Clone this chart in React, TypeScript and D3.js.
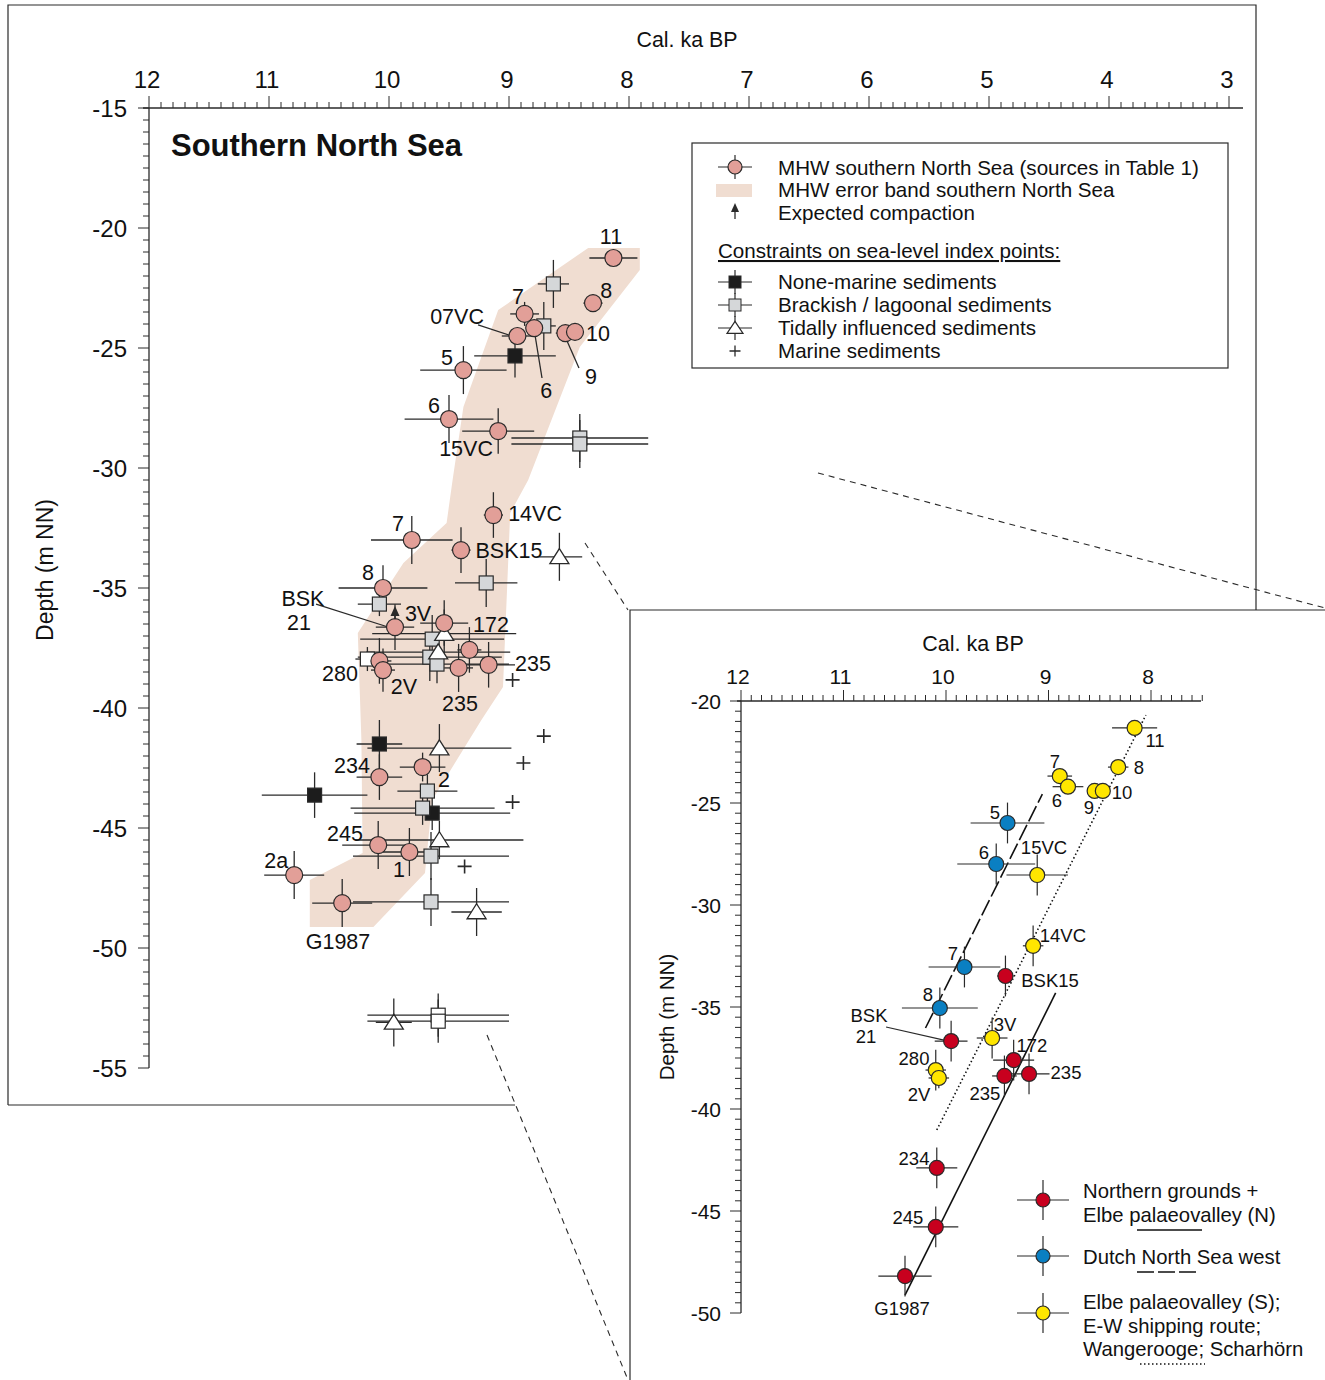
import React from 'react';
import * as d3 from 'd3';

type P = { ka: number; d: number; ex: number; ey: number };
type L = { t: string; ka: number; d: number };

// ---------- MAIN PANEL DATA ----------
const MAIN_KA_TICKS = [12, 11, 10, 9, 8, 7, 6, 5, 4, 3];
const MAIN_DEPTH_TICKS = [-15, -20, -25, -30, -35, -40, -45, -50, -55];

const BAND: [number, number][] = [
  [8.34, -20.83], [7.91, -20.83], [7.91, -21.75], [8.41, -24.96], [8.84, -30.5], [8.99, -31.88],
  [9.05, -39.13], [9.23, -40.5], [9.64, -43.83], [9.70, -46.88], [10.13, -49.13], [10.66, -49.13],
  [10.66, -47.17], [10.22, -46.04], [10.23, -41.33], [10.26, -36.88], [9.88, -33.96], [9.52, -32.29],
  [9.47, -30.5], [9.38, -27.46], [9.09, -23.42],
];

const MHW: P[] = [
  { ka: 8.13, d: -21.25, ex: 0.2, ey: 0 },
  { ka: 8.30, d: -23.13, ex: 0.08, ey: 0 },
  { ka: 8.87, d: -23.58, ex: 0.12, ey: 0.5 },
  { ka: 8.93, d: -24.5, ex: 0.13, ey: 0 },
  { ka: 8.79, d: -24.17, ex: 0, ey: 0 },
  { ka: 8.53, d: -24.38, ex: 0.08, ey: 0 },
  { ka: 8.45, d: -24.33, ex: 0, ey: 0 },
  { ka: 9.38, d: -25.92, ex: 0.36, ey: 1.0 },
  { ka: 9.50, d: -27.96, ex: 0.37, ey: 1.0 },
  { ka: 9.09, d: -28.46, ex: 0.3, ey: 0.95 },
  { ka: 9.13, d: -31.96, ex: 0.08, ey: 0.95 },
  { ka: 9.81, d: -33.0, ex: 0.34, ey: 1.0 },
  { ka: 9.40, d: -33.42, ex: 0.08, ey: 0.95 },
  { ka: 10.05, d: -35.0, ex: 0.37, ey: 0.95 },
  { ka: 9.95, d: -36.63, ex: 0.16, ey: 0.95 },
  { ka: 9.54, d: -36.46, ex: 0.2, ey: 0.95 },
  { ka: 9.33, d: -37.58, ex: 0.1, ey: 0.95 },
  { ka: 9.42, d: -38.33, ex: 0.12, ey: 1.0 },
  { ka: 9.17, d: -38.2, ex: 0.22, ey: 0.95 },
  { ka: 10.08, d: -38.04, ex: 0.1, ey: 0.95 },
  { ka: 10.05, d: -38.42, ex: 0.1, ey: 0.9 },
  { ka: 10.08, d: -42.88, ex: 0.19, ey: 0.95 },
  { ka: 9.72, d: -42.46, ex: 0.19, ey: 0.6 },
  { ka: 10.09, d: -45.71, ex: 0.3, ey: 1.0 },
  { ka: 9.83, d: -46.0, ex: 0.22, ey: 1.0 },
  { ka: 10.79, d: -46.96, ex: 0.25, ey: 1.0 },
  { ka: 10.39, d: -48.13, ex: 0.25, ey: 1.0 },
];

const NON_MARINE: P[] = [
  { ka: 8.95, d: -25.33, ex: 0.34, ey: 0.9 },
  { ka: 10.08, d: -41.5, ex: 0.19, ey: 1.0 },
  { ka: 10.62, d: -43.63, ex: 0.44, ey: 0.95 },
  { ka: 9.64, d: -44.38, ex: 0.65, ey: 0.7 },
];

const BRACKISH: P[] = [
  { ka: 8.63, d: -22.33, ex: 0.13, ey: 1.0 },
  { ka: 8.71, d: -24.08, ex: 0.1, ey: 1.0 },
  { ka: 8.41, d: -28.75, ex: 0.57, ey: 1.0 },
  { ka: 8.41, d: -29.0, ex: 0.57, ey: 1.0 },
  { ka: 9.19, d: -34.79, ex: 0.26, ey: 1.0 },
  { ka: 10.08, d: -35.67, ex: 0.18, ey: 0.5 },
  { ka: 9.64, d: -37.13, ex: 0.6, ey: 1.0 },
  { ka: 9.66, d: -37.88, ex: 0.6, ey: 1.0 },
  { ka: 9.60, d: -38.17, ex: 0.6, ey: 0.8 },
  { ka: 9.68, d: -43.46, ex: 0.25, ey: 0.7 },
  { ka: 9.72, d: -44.17, ex: 0.6, ey: 0.7 },
  { ka: 9.65, d: -46.17, ex: 0.65, ey: 1.0 },
  { ka: 9.65, d: -48.08, ex: 0.65, ey: 1.0 },
];

const OPEN_SQUARES: P[] = [
  { ka: 10.18, d: -37.96, ex: 0.1, ey: 0.5 },
  { ka: 9.59, d: -52.8, ex: 0.59, ey: 0.9 },
  { ka: 9.59, d: -53.05, ex: 0.59, ey: 0.9 },
];

const TIDAL: P[] = [
  { ka: 8.58, d: -33.7, ex: 0.19, ey: 1.0 },
  { ka: 9.54, d: -36.9, ex: 0.6, ey: 1.0 },
  { ka: 9.59, d: -37.67, ex: 0.6, ey: 0.5 },
  { ka: 9.58, d: -41.67, ex: 0.6, ey: 1.0 },
  { ka: 9.58, d: -45.5, ex: 0.7, ey: 0.8 },
  { ka: 9.27, d: -48.5, ex: 0.21, ey: 1.0 },
  { ka: 9.96, d: -53.1, ex: 0.15, ey: 1.0 },
];

const MARINE: P[] = [
  { ka: 8.97, d: -38.83, ex: 0, ey: 0 },
  { ka: 8.71, d: -41.17, ex: 0, ey: 0 },
  { ka: 8.88, d: -42.29, ex: 0, ey: 0 },
  { ka: 8.97, d: -43.92, ex: 0, ey: 0 },
  { ka: 9.37, d: -46.6, ex: 0, ey: 0 },
];

const MAIN_LABELS: L[] = [
  { t: '11', ka: 8.15, d: -20.33 }, { t: '8', ka: 8.19, d: -22.58 }, { t: '7', ka: 8.925, d: -22.83 },
  { t: '07VC', ka: 9.433, d: -23.67 }, { t: '10', ka: 8.258, d: -24.375 }, { t: '6', ka: 8.69, d: -26.75 },
  { t: '9', ka: 8.317, d: -26.17 }, { t: '5', ka: 9.517, d: -25.375 }, { t: '6', ka: 9.625, d: -27.375 },
  { t: '15VC', ka: 9.358, d: -29.17 }, { t: '14VC', ka: 8.783, d: -31.875 }, { t: '7', ka: 9.925, d: -32.29 },
  { t: 'BSK15', ka: 9.0, d: -33.42 }, { t: '8', ka: 10.175, d: -34.33 }, { t: 'BSK', ka: 10.717, d: -35.42 },
  { t: '21', ka: 10.75, d: -36.42 }, { t: '3V', ka: 9.758, d: -36.04 }, { t: '172', ka: 9.15, d: -36.5 },
  { t: '235', ka: 8.8, d: -38.125 }, { t: '280', ka: 10.408, d: -38.54 }, { t: '2V', ka: 9.875, d: -39.08 },
  { t: '235', ka: 9.408, d: -39.79 }, { t: '234', ka: 10.308, d: -42.375 }, { t: '2', ka: 9.542, d: -42.96 },
  { t: '245', ka: 10.367, d: -45.21 }, { t: '2a', ka: 10.94, d: -46.33 }, { t: '1', ka: 9.917, d: -46.71 },
  { t: 'G1987', ka: 10.425, d: -49.71 },
];

const MAIN_LEADERS: [number, number, number, number][] = [
  [9.258, -24.04, 8.95, -24.54],
  [8.79, -24.25, 8.725, -26.25],
  [8.542, -24.42, 8.417, -25.83],
  [10.608, -35.67, 10.008, -36.625],
];

// ---------- INSET DATA ----------
const INSET_KA_TICKS = [12, 11, 10, 9, 8];
const INSET_DEPTH_TICKS = [-20, -25, -30, -35, -40, -45, -50];

const INSET_YELLOW: P[] = [
  { ka: 8.16, d: -21.32, ex: 0.22, ey: 0 },
  { ka: 8.32, d: -23.24, ex: 0.1, ey: 0 },
  { ka: 8.89, d: -23.68, ex: 0.12, ey: 0 },
  { ka: 8.81, d: -24.2, ex: 0.15, ey: 0 },
  { ka: 8.55, d: -24.41, ex: 0.07, ey: 0 },
  { ka: 8.47, d: -24.41, ex: 0, ey: 0 },
  { ka: 9.11, d: -28.53, ex: 0.3, ey: 1.0 },
  { ka: 9.15, d: -32.0, ex: 0.1, ey: 1.0 },
  { ka: 9.55, d: -36.52, ex: 0.15, ey: 1.0 },
  { ka: 10.1, d: -38.09, ex: 0.1, ey: 1.0 },
  { ka: 10.07, d: -38.48, ex: 0.1, ey: 0.5 },
];
const INSET_BLUE: P[] = [
  { ka: 9.4, d: -25.98, ex: 0.36, ey: 1.0 },
  { ka: 9.51, d: -27.99, ex: 0.38, ey: 1.0 },
  { ka: 9.82, d: -33.04, ex: 0.35, ey: 1.0 },
  { ka: 10.06, d: -35.05, ex: 0.37, ey: 1.0 },
];
const INSET_RED: P[] = [
  { ka: 9.42, d: -33.48, ex: 0.08, ey: 1.0 },
  { ka: 9.95, d: -36.67, ex: 0.16, ey: 1.0 },
  { ka: 9.34, d: -37.6, ex: 0.2, ey: 1.0 },
  { ka: 9.43, d: -38.38, ex: 0.12, ey: 1.0 },
  { ka: 9.19, d: -38.28, ex: 0.2, ey: 1.0 },
  { ka: 10.09, d: -42.89, ex: 0.2, ey: 1.0 },
  { ka: 10.1, d: -45.78, ex: 0.22, ey: 1.0 },
  { ka: 10.4, d: -48.19, ex: 0.26, ey: 1.0 },
];

const INSET_LABELS: L[] = [
  { t: '11', ka: 7.961, d: -21.91 }, { t: '8', ka: 8.117, d: -23.24 }, { t: '7', ka: 8.937, d: -22.94 },
  { t: '6', ka: 8.917, d: -24.85 }, { t: '9', ka: 8.605, d: -25.2 }, { t: '10', ka: 8.283, d: -24.46 },
  { t: '5', ka: 9.522, d: -25.44 }, { t: '6', ka: 9.63, d: -27.4 }, { t: '15VC', ka: 9.044, d: -27.16 },
  { t: '14VC', ka: 8.859, d: -31.47 }, { t: '7', ka: 9.932, d: -32.35 }, { t: 'BSK15', ka: 8.985, d: -33.68 },
  { t: '8', ka: 10.176, d: -34.36 }, { t: 'BSK', ka: 10.751, d: -35.39 }, { t: '21', ka: 10.78, d: -36.42 },
  { t: '3V', ka: 9.424, d: -35.83 }, { t: '172', ka: 9.161, d: -36.86 }, { t: '280', ka: 10.312, d: -37.5 },
  { t: '235', ka: 8.829, d: -38.19 }, { t: '2V', ka: 10.263, d: -39.26 }, { t: '235', ka: 9.62, d: -39.22 },
  { t: '234', ka: 10.312, d: -42.4 }, { t: '245', ka: 10.371, d: -45.29 }, { t: 'G1987', ka: 10.429, d: -49.75 },
];
const INSET_LEADERS: [number, number, number, number][] = [[10.585, -35.98, 10.02, -36.62]];

const TREND_SOLID: [number, number][] = [[10.4, -49.12], [8.93, -34.31]];
const TREND_DASHED: [number, number][] = [[10.2, -36.03], [9.06, -24.56]];
const TREND_DOTTED: [number, number][] = [[10.09, -41.03], [8.05, -20.69]];

const FONT = "'Liberation Sans', Arial, Helvetica, sans-serif";
const INK = '#2a2a2a';
const PINK = '#e29f98';
const BANDC = '#f0ddd1';
const GREY = '#d5d7d9';
const RED = '#c8001e';
const BLUE = '#0a7fc2';
const YELLOW = '#ffe600';

export default function App() {
  const x = d3.scaleLinear().domain([12, 3]).range([149, 1229]);
  const y = d3.scaleLinear().domain([-15, -55]).range([108, 1068]);
  const xi = d3.scaleLinear().domain([12, 8]).range([741, 1151]);
  const yi = d3.scaleLinear().domain([-20, -50]).range([701, 1313]);

  const bars = (pts: P[], sx: any, sy: any, key: string, sw = 1.3) =>
    pts.map((p, i) => (
      <g key={key + i} stroke={INK} strokeWidth={sw}>
        {p.ex > 0 && <line x1={sx(p.ka + p.ex)} x2={sx(p.ka - p.ex)} y1={sy(p.d)} y2={sy(p.d)} />}
        {p.ey > 0 && <line x1={sx(p.ka)} x2={sx(p.ka)} y1={sy(p.d + p.ey)} y2={sy(p.d - p.ey)} />}
      </g>
    ));

  const circles = (pts: P[], sx: any, sy: any, fill: string, r: number, key: string) =>
    pts.map((p, i) => (
      <circle key={key + i} cx={sx(p.ka)} cy={sy(p.d)} r={r} fill={fill} stroke={INK} strokeWidth={1.2} />
    ));

  const squares = (pts: P[], fill: string, key: string, s = 14) =>
    pts.map((p, i) => (
      <rect key={key + i} x={x(p.ka) - s / 2} y={y(p.d) - s / 2} width={s} height={s} fill={fill} stroke={INK} strokeWidth={1.2} />
    ));

  const triPath = (cx: number, cy: number, w = 19, h = 15) =>
    `M${cx},${cy - h * 0.55}L${cx + w / 2},${cy + h * 0.45}L${cx - w / 2},${cy + h * 0.45}Z`;

  const plusPath = (cx: number, cy: number, s = 7) => `M${cx - s},${cy}H${cx + s}M${cx},${cy - s}V${cy + s}`;

  const bandPath = d3.line<[number, number]>().x((d) => x(d[0])).y((d) => y(d[1]))(BAND) + 'Z';
  const lineGen = d3.line<[number, number]>().x((d) => xi(d[0])).y((d) => yi(d[1]));

  const mainMinorX = d3.range(0, 91).map((i) => 12 - i * 0.1);
  const mainMinorY = d3.range(0, 81).map((i) => -15 - i * 0.5);
  const insetMinorX = d3.range(0, 46).map((i) => 12 - i * 0.1);
  const insetMinorY = d3.range(0, 61).map((i) => -20 - i * 0.5);

  const legendItems = [
    { yy: 282, t: 'None-marine sediments' },
    { yy: 305, t: 'Brackish / lagoonal sediments' },
    { yy: 328, t: 'Tidally influenced sediments' },
    { yy: 351, t: 'Marine sediments' },
  ];

  const LF = 20.6;

  return (
    <svg width={1325} height={1380} style={{ position: 'absolute', left: 0, top: 0 }} fontFamily={FONT}>
      <rect x={0} y={0} width={1325} height={1380} fill="#fff" />
      {/* main frame */}
      <path d="M8,1105V5H1256V612M8,1105H515" fill="none" stroke={INK} strokeWidth={1.2} />

      {/* band */}
      <path d={bandPath} fill={BANDC} stroke="none" />

      {/* top axis */}
      <line x1={143} x2={1243} y1={108} y2={108} stroke={INK} strokeWidth={1.3} />
      {mainMinorX.map((k, i) => (
        <line key={'mx' + i} x1={x(k)} x2={x(k)} y1={108} y2={i % 10 === 0 ? 96 : 102} stroke={INK} strokeWidth={1} />
      ))}
      {MAIN_KA_TICKS.map((k) => (
        <text key={'mxl' + k} x={x(k) - 2} y={88} fontSize={24} textAnchor="middle" fill="#111">{k}</text>
      ))}
      <text x={687} y={47} fontSize={21.4} textAnchor="middle" fill="#111">Cal. ka BP</text>

      {/* left axis */}
      <line x1={149} x2={149} y1={108} y2={1068} stroke={INK} strokeWidth={1.3} />
      {mainMinorY.map((d, i) => (
        <line key={'my' + i} x1={149} x2={i % 10 === 0 ? 138 : 143} y1={y(d)} y2={y(d)} stroke={INK} strokeWidth={1} />
      ))}
      {MAIN_DEPTH_TICKS.map((d) => (
        <text key={'myl' + d} x={127} y={y(d)} dy="0.36em" fontSize={24} textAnchor="end" fill="#111">{d}</text>
      ))}
      <text transform="translate(53,570) rotate(-90)" fontSize={23} textAnchor="middle" fill="#111">Depth (m NN)</text>

      <text x={171} y={156} fontSize={31} fontWeight="bold" fill="#111">Southern North Sea</text>

      {/* error bars */}
      {bars(NON_MARINE, x, y, 'bn')}
      {bars(BRACKISH, x, y, 'bb')}
      {bars(OPEN_SQUARES, x, y, 'bo')}
      {bars(TIDAL, x, y, 'bt')}
      {bars(MHW, x, y, 'bm')}

      {/* leaders */}
      {MAIN_LEADERS.map((l, i) => (
        <line key={'ml' + i} x1={x(l[0])} y1={y(l[1])} x2={x(l[2])} y2={y(l[3])} stroke={INK} strokeWidth={1.3} />
      ))}

      {/* markers */}
      {squares(NON_MARINE, '#1c1c1c', 'sn')}
      {squares(BRACKISH, GREY, 'sb')}
      {squares(OPEN_SQUARES, '#fff', 'so')}
      {TIDAL.map((p, i) => (
        <path key={'t' + i} d={triPath(x(p.ka), y(p.d))} fill="#fff" stroke={INK} strokeWidth={1.3} />
      ))}
      {MARINE.map((p, i) => (
        <path key={'pl' + i} d={plusPath(x(p.ka), y(p.d))} stroke={INK} strokeWidth={1.6} />
      ))}
      {circles(MHW, x, y, PINK, 8.5, 'cm')}

      {/* compaction arrow */}
      <line x1={x(9.95)} x2={x(9.95)} y1={y(-36.3)} y2={y(-35.95)} stroke={INK} strokeWidth={1.5} />
      <path d={`M${x(9.95)},${y(-35.75)}l4.5,10h-9z`} fill={INK} />

      {MAIN_LABELS.map((l, i) => (
        <text key={'lb' + i} x={x(l.ka)} y={y(l.d)} dy="0.36em" fontSize={21.5} textAnchor="middle" fill="#111">{l.t}</text>
      ))}

      {/* legend */}
      <rect x={692} y={143} width={536} height={225} fill="#fff" stroke={INK} strokeWidth={1.2} />
      <g stroke={INK} strokeWidth={1.2}>
        <line x1={718} x2={752} y1={167} y2={167} />
        <line x1={735} x2={735} y1={155} y2={179} />
      </g>
      <circle cx={735} cy={167} r={7} fill={PINK} stroke={INK} strokeWidth={1.2} />
      <rect x={716} y={184} width={36} height={13} fill={BANDC} />
      <line x1={735} x2={735} y1={219} y2={210} stroke={INK} strokeWidth={1.3} />
      <path d="M735,203l4,9h-8z" fill={INK} />
      <text x={778} y={175} fontSize={LF} fill="#111">MHW southern North Sea (sources in Table 1)</text>
      <text x={778} y={197} fontSize={LF} fill="#111">MHW error band southern North Sea</text>
      <text x={778} y={220} fontSize={LF} fill="#111">Expected compaction</text>
      <text x={718} y={258} fontSize={LF} fill="#111" textDecoration="underline">Constraints on sea-level index points:</text>
      {legendItems.map((it, i) => (
        <g key={'lg' + i}>
          {i < 3 && (
            <g stroke={INK} strokeWidth={1.2}>
              <line x1={718} x2={752} y1={it.yy} y2={it.yy} />
              <line x1={735} x2={735} y1={it.yy - 12} y2={it.yy + 12} />
            </g>
          )}
          {i === 0 && <rect x={729} y={it.yy - 6} width={12} height={12} fill="#1c1c1c" stroke={INK} />}
          {i === 1 && <rect x={729} y={it.yy - 6} width={12} height={12} fill={GREY} stroke={INK} />}
          {i === 2 && <path d={triPath(735, it.yy, 16, 12)} fill="#fff" stroke={INK} strokeWidth={1.2} />}
          {i === 3 && <path d={plusPath(735, it.yy, 5.5)} stroke={INK} strokeWidth={1.3} />}
          <text x={778} y={it.yy + 7} fontSize={LF} fill="#111">{it.t}</text>
        </g>
      ))}

      {/* zoom connector lines */}
      <g stroke={INK} strokeWidth={1.1} strokeDasharray="6,5" fill="none">
        <line x1={818} y1={473} x2={1325} y2={608} />
        <line x1={585} y1={543} x2={628} y2={610} />
        <line x1={487} y1={1035} x2={628} y2={1380} />
      </g>

      {/* ---------- INSET ---------- */}
      <rect x={630} y={610} width={700} height={775} fill="#fff" />
      <path d="M630,1380V610H1325" fill="none" stroke={INK} strokeWidth={1.2} />

      <line x1={737} x2={1201} y1={701} y2={701} stroke={INK} strokeWidth={1.3} />
      {insetMinorX.map((k, i) => (
        <line key={'ix' + i} x1={xi(k)} x2={xi(k)} y1={701} y2={i % 10 === 0 ? 690 : 695} stroke={INK} strokeWidth={1} />
      ))}
      {INSET_KA_TICKS.map((k) => (
        <text key={'ixl' + k} x={xi(k) - 3} y={684} fontSize={21} textAnchor="middle" fill="#111">{k}</text>
      ))}
      <text x={973} y={651} fontSize={21.5} textAnchor="middle" fill="#111">Cal. ka BP</text>

      <line x1={741} x2={741} y1={701} y2={1313} stroke={INK} strokeWidth={1.3} />
      {insetMinorY.map((d, i) => (
        <line key={'iy' + i} x1={741} x2={i % 10 === 0 ? 730 : 735} y1={yi(d)} y2={yi(d)} stroke={INK} strokeWidth={1} />
      ))}
      {INSET_DEPTH_TICKS.map((d) => (
        <text key={'iyl' + d} x={721} y={yi(d)} dy="0.36em" fontSize={21} textAnchor="end" fill="#111">{d}</text>
      ))}
      <text transform="translate(674,1017) rotate(-90)" fontSize={20.5} textAnchor="middle" fill="#111">Depth (m NN)</text>

      {/* trend lines */}
      <path d={lineGen(TREND_SOLID) || ''} stroke="#111" strokeWidth={1.6} fill="none" />
      <path d={lineGen(TREND_DASHED) || ''} stroke="#111" strokeWidth={1.6} fill="none" strokeDasharray="17,4" />
      <path d={lineGen(TREND_DOTTED) || ''} stroke="#111" strokeWidth={1.6} fill="none" strokeDasharray="1.5,2.5" />

      {bars(INSET_YELLOW, xi, yi, 'iyb', 1.2)}
      {bars(INSET_BLUE, xi, yi, 'ibb', 1.2)}
      {bars(INSET_RED, xi, yi, 'irb', 1.2)}
      {INSET_LEADERS.map((l, i) => (
        <line key={'il' + i} x1={xi(l[0])} y1={yi(l[1])} x2={xi(l[2])} y2={yi(l[3])} stroke={INK} strokeWidth={1.2} />
      ))}
      {circles(INSET_YELLOW, xi, yi, YELLOW, 7.5, 'icy')}
      {circles(INSET_BLUE, xi, yi, BLUE, 7.5, 'icb')}
      {circles(INSET_RED, xi, yi, RED, 7.5, 'icr')}
      {INSET_LABELS.map((l, i) => (
        <text key={'ilb' + i} x={xi(l.ka)} y={yi(l.d)} dy="0.36em" fontSize={18.5} textAnchor="middle" fill="#111">{l.t}</text>
      ))}

      {/* inset legend */}
      {[{ yy: 1200, c: RED }, { yy: 1256, c: BLUE }, { yy: 1313, c: YELLOW }].map((it, i) => (
        <g key={'ilg' + i}>
          <line x1={1017} x2={1069} y1={it.yy} y2={it.yy} stroke={INK} strokeWidth={1.2} />
          <line x1={1043} x2={1043} y1={it.yy - 20} y2={it.yy + 20} stroke={INK} strokeWidth={1.2} />
          <circle cx={1043} cy={it.yy} r={7} fill={it.c} stroke={INK} strokeWidth={1.2} />
        </g>
      ))}
      <g fontSize={20.3} fill="#111">
        <text x={1083} y={1198}>Northern grounds +</text>
        <text x={1083} y={1222}>Elbe palaeovalley (N)</text>
        <text x={1083} y={1264}>Dutch North Sea west</text>
        <text x={1083} y={1309}>Elbe palaeovalley (S);</text>
        <text x={1083} y={1333}>E-W shipping route;</text>
        <text x={1083} y={1356}>Wangerooge; Scharhörn</text>
      </g>
      <line x1={1137} x2={1202} y1={1230} y2={1230} stroke="#111" strokeWidth={1.6} />
      <line x1={1137} x2={1200} y1={1272} y2={1272} stroke="#111" strokeWidth={1.6} strokeDasharray="17,4" />
      <line x1={1140} x2={1205} y1={1364} y2={1364} stroke="#111" strokeWidth={1.6} strokeDasharray="1.5,2.5" />
    </svg>
  );
}
